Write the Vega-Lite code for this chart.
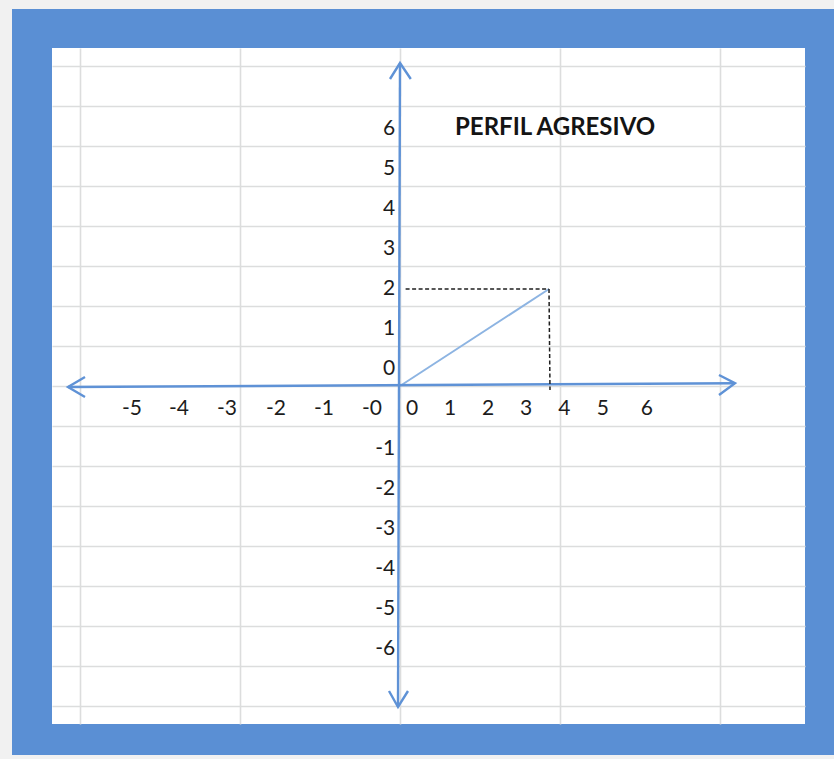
{
  "$schema": "https://vega.github.io/schema/vega-lite/v6.json",
  "width": 753,
  "height": 676,
  "autosize": {"type": "none"},
  "padding": {"left": 52, "top": 48, "right": 29, "bottom": 35},
  "background": "#5a8fd4",
  "config": {
    "view": {"fill": "white", "stroke": null},
    "axis": {"labels": false, "ticks": false, "domain": false, "title": null, "grid": true, "gridColor": "#dcdddd", "gridWidth": 1.6}
  },
  "datasets": {
    "strips": [
      {"u": -10, "u2": -9.7, "v": 9.65, "v2": -9.325},
      {"u": -10, "u2": 10.85, "v": 9.65, "v2": 9.425},
      {"u": -10, "u2": 10.85, "v": -9.225, "v2": -9.325}
    ],
    "axes": [
      {"g": "h", "o": 1, "u": -8.3, "v": -0.025},
      {"g": "h", "o": 2, "u": 8.375, "v": 0.07},
      {"g": "v", "o": 1, "u": 0, "v": 8.075},
      {"g": "v", "o": 2, "u": -0.05, "v": -8.025},
      {"g": "al", "o": 1, "u": -7.875, "v": 0.225},
      {"g": "al", "o": 2, "u": -8.3, "v": -0.025},
      {"g": "al", "o": 3, "u": -7.875, "v": -0.275},
      {"g": "ar", "o": 1, "u": 7.975, "v": 0.275},
      {"g": "ar", "o": 2, "u": 8.375, "v": 0.07},
      {"g": "ar", "o": 3, "u": 7.975, "v": -0.225},
      {"g": "at", "o": 1, "u": -0.25, "v": 7.675},
      {"g": "at", "o": 2, "u": 0, "v": 8.075},
      {"g": "at", "o": 3, "u": 0.27, "v": 7.675},
      {"g": "ab", "o": 1, "u": -0.275, "v": -7.625},
      {"g": "ab", "o": 2, "u": -0.05, "v": -8.025},
      {"g": "ab", "o": 3, "u": 0.2, "v": -7.625}
    ],
    "profile": [
      {"o": 1, "u": 0, "v": 0},
      {"o": 2, "u": 3.725, "v": 2.425}
    ],
    "guides": [
      {"g": "h", "o": 1, "u": 0.14, "v": 2.425},
      {"g": "h", "o": 2, "u": 3.725, "v": 2.425},
      {"g": "v", "o": 1, "u": 3.725, "v": 2.425},
      {"g": "v", "o": 2, "u": 3.75, "v": -0.1}
    ],
    "ylabels": [
      {"t": "6", "u": -0.12, "v": 6.425},
      {"t": "5", "u": -0.12, "v": 5.425},
      {"t": "4", "u": -0.12, "v": 4.425},
      {"t": "3", "u": -0.12, "v": 3.425},
      {"t": "2", "u": -0.12, "v": 2.425},
      {"t": "1", "u": -0.12, "v": 1.425},
      {"t": "0", "u": -0.12, "v": 0.425},
      {"t": "-1", "u": -0.12, "v": -1.575},
      {"t": "-2", "u": -0.12, "v": -2.575},
      {"t": "-3", "u": -0.12, "v": -3.575},
      {"t": "-4", "u": -0.12, "v": -4.575},
      {"t": "-5", "u": -0.12, "v": -5.575},
      {"t": "-6", "u": -0.12, "v": -6.575}
    ],
    "xlabels": [
      {"t": "-5", "u": -6.7, "v": -0.575},
      {"t": "-4", "u": -5.525, "v": -0.575},
      {"t": "-3", "u": -4.325, "v": -0.575},
      {"t": "-2", "u": -3.1, "v": -0.575},
      {"t": "-1", "u": -1.9, "v": -0.575},
      {"t": "-0", "u": -0.7, "v": -0.575},
      {"t": "0", "u": 0.3, "v": -0.575},
      {"t": "1", "u": 1.25, "v": -0.575},
      {"t": "2", "u": 2.2, "v": -0.575},
      {"t": "3", "u": 3.15, "v": -0.575},
      {"t": "4", "u": 4.11, "v": -0.575},
      {"t": "5", "u": 5.07, "v": -0.575},
      {"t": "6", "u": 6.17, "v": -0.575}
    ],
    "title": [
      {"t": "PERFIL AGRESIVO", "u": 1.375, "v": 6.45}
    ]
  },
  "data": {"name": "strips"},
  "encoding": {
    "x": {"field": "u", "type": "quantitative", "scale": {"domain": [-8.7, 10.125], "nice": false, "zero": false}, "axis": {"values": [-8, -4, 0, 4, 8]}},
    "y": {"field": "v", "type": "quantitative", "scale": {"domain": [-8.45, 8.45], "nice": false, "zero": false}, "axis": {"values": [-8, -7, -6, -5, -4, -3, -2, -1, 0, 1, 2, 3, 4, 5, 6, 7, 8]}}
  },
  "layer": [
    {
      "data": {"name": "strips"},
      "mark": {"type": "rect", "color": "#f1f1f1", "clip": false},
      "encoding": {"x2": {"field": "u2"}, "y2": {"field": "v2"}}
    },
    {
      "data": {"name": "profile"},
      "mark": {"type": "line", "color": "#8db4e2", "strokeWidth": 2},
      "encoding": {"order": {"field": "o"}}
    },
    {
      "data": {"name": "axes"},
      "mark": {"type": "line", "color": "#5f92d6", "strokeWidth": 2.4},
      "encoding": {"detail": {"field": "g"}, "order": {"field": "o"}}
    },
    {
      "data": {"name": "guides"},
      "mark": {"type": "line", "color": "#1f1f1f", "strokeWidth": 1.5, "strokeDash": [4, 2.5]},
      "encoding": {"detail": {"field": "g"}, "order": {"field": "o"}}
    },
    {
      "data": {"name": "ylabels"},
      "mark": {"type": "text", "align": "right", "baseline": "middle", "font": "Lato", "fontSize": 21, "color": "#1c1c1c"},
      "encoding": {"text": {"field": "t"}}
    },
    {
      "data": {"name": "xlabels"},
      "mark": {"type": "text", "align": "center", "baseline": "middle", "font": "Lato", "fontSize": 21, "color": "#1c1c1c"},
      "encoding": {"text": {"field": "t"}}
    },
    {
      "data": {"name": "title"},
      "mark": {"type": "text", "align": "left", "baseline": "middle", "font": "Lato", "fontSize": 24, "fontWeight": "bold", "color": "#141414"},
      "encoding": {"text": {"field": "t"}}
    }
  ]
}
